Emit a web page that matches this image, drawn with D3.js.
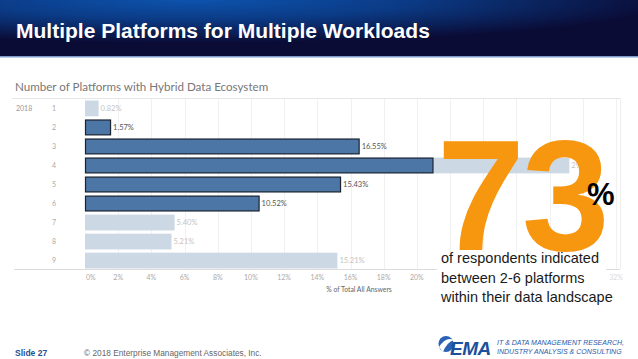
<meta charset="UTF-8">
<script src="https://d3js.org/d3.v7.min.js"></script>
<style>
  body { margin: 0; background: #fff; }
  svg { display: block; }
</style>
<div id="slide"></div>
<script>
// chart values
var categories = ["1", "2", "3", "4", "5", "6", "7", "8", "9"];
var values     = [0.82, 1.57, 16.55, 29.19, 15.43, 10.52, 5.40, 5.21, 15.21];
var darkPart   = [0, 1.57, 16.55, 21.0, 15.43, 10.52, 0, 0, 0];   // highlighted (2-6 platforms)
var gridTicks  = [2, 4, 6, 8, 10, 12, 14, 16, 18, 20, 22, 24, 26, 28, 30, 32];
var tickLabels = [0, 2, 4, 6, 8, 10, 12, 14, 16, 18, 20, 32];   // 22-30% sit under the callout text
var bodyLines  = ["of respondents indicated", "between 2-6 platforms", "within their data landscape"];

var W = 638, H = 359;
var svg = d3.select("#slide").append("svg").attr("width", W).attr("height", H);

// title bar
var defs = svg.append("defs");
var grad = defs.append("radialGradient").attr("id", "hdr")
  .attr("cx", "0.3").attr("cy", "0").attr("r", "0.75")
  .attr("fx", "0.3").attr("fy", "0");
grad.append("stop").attr("offset", "0%").attr("stop-color", "#0d53ad");
grad.append("stop").attr("offset", "45%").attr("stop-color", "#0b3b86");
grad.append("stop").attr("offset", "100%").attr("stop-color", "#0a0c36");
svg.append("rect").attr("width", W).attr("height", 57).attr("fill", "url(#hdr)");
svg.append("rect").attr("y", 56).attr("width", W).attr("height", 1.5).attr("fill", "#7f9cc8");
svg.append("text").attr("x", 16).attr("y", 38)
  .attr("font-family", "Liberation Sans, Arial, sans-serif").attr("font-weight", "bold")
  .attr("font-size", 21).attr("fill", "#fff")
  .text("Multiple Platforms for Multiple Workloads");

// chart area
var x = d3.scaleLinear().domain([0, 32]).range([85, 616]);
var y = d3.scaleBand().domain(categories).range([99, 270]).paddingInner(0.17).paddingOuter(0.08);

var chart = svg.append("g").attr("font-family", "Lato, Open Sans, sans-serif");

chart.append("text").attr("x", 15).attr("y", 91)
  .attr("font-size", 11.6).attr("fill", "#777")
  .text("Number of Platforms with Hybrid Data Ecosystem");
chart.append("line").attr("x1", 12).attr("x2", 620).attr("y1", 98.5).attr("y2", 98.5)
  .attr("stroke", "#e6e6e6");
chart.append("line").attr("x1", 620.5).attr("x2", 620.5).attr("y1", 98).attr("y2", 269)
  .attr("stroke", "#eeeeee");

// grid
chart.append("g").selectAll("line").data(gridTicks).enter().append("line")
  .attr("x1", function(d) { return Math.round(x(d)) + 0.5; })
  .attr("x2", function(d) { return Math.round(x(d)) + 0.5; })
  .attr("y1", 99).attr("y2", 269)
  .attr("stroke", "#f1f1f1");

// row labels
chart.append("text").attr("x", 16).attr("y", 111).attr("font-size", 7).attr("fill", "#999").text("2018");
chart.append("g").selectAll("text").data(categories).enter().append("text")
  .attr("x", 54).attr("y", function(d) { return y(d) + y.bandwidth() / 2 + 2.5; })
  .attr("text-anchor", "middle").attr("font-size", 7).attr("fill", "#aaa")
  .text(function(d) { return d; });

// full bars (light)
chart.append("g").selectAll("rect").data(categories).enter().append("rect")
  .attr("x", x(0))
  .attr("y", function(d) { return y(d); })
  .attr("width", function(d, i) { return x(values[i]) - x(0); })
  .attr("height", y.bandwidth())
  .attr("fill", "#ccd8e4");

// highlighted part (dark)
chart.append("g").selectAll("rect").data(categories.filter(function(d, i) { return darkPart[i] > 0; }))
  .enter().append("rect")
  .attr("x", x(0) + 0.5)
  .attr("y", function(d) { return y(d) + 0.5; })
  .attr("width", function(d) { return x(darkPart[categories.indexOf(d)]) - x(0) - 1; })
  .attr("height", y.bandwidth() - 1)
  .attr("fill", "#4c76a6").attr("stroke", "#1d2430").attr("stroke-width", 1.2);

// value labels
chart.append("g").selectAll("text").data(categories).enter().append("text")
  .attr("x", function(d, i) { return x(values[i]) + 2; })
  .attr("y", function(d) { return y(d) + y.bandwidth() / 2 + 2.8; })
  .attr("font-size", 7.5)
  .attr("fill", function(d, i) { return darkPart[i] === values[i] ? "#555" : "#c4c4c4"; })
  .text(function(d, i) { return values[i].toFixed(2) + "%"; });

// x axis
chart.append("line").attr("x1", 14).attr("x2", 620).attr("y1", 269.5).attr("y2", 269.5)
  .attr("stroke", "#dcdcdc");
chart.append("g").selectAll("text").data(tickLabels).enter().append("text")
  .attr("x", function(d) { return d === 0 ? x(d) + 1 : x(d); })
  .attr("y", 280)
  .attr("text-anchor", function(d) { return d === 0 ? "start" : "middle"; })
  .attr("font-size", 7)
  .attr("fill", function(d) { return d > 30 ? "#dadada" : "#aaa"; })
  .text(function(d) { return d + "%"; });
chart.append("text").attr("x", 359).attr("y", 292).attr("text-anchor", "middle")
  .attr("font-size", 6.8).attr("fill", "#666").text("% of Total All Answers");

// big callout
svg.append("text").attr("x", 437).attr("y", 250)
  .attr("font-family", "Liberation Sans, Arial, sans-serif").attr("font-weight", "bold")
  .attr("font-size", 158).attr("letter-spacing", -3).attr("fill", "#f7960f")
  .text("73");
svg.append("text").attr("x", 587).attr("y", 205)
  .attr("font-family", "Liberation Sans, Arial, sans-serif").attr("font-weight", "bold")
  .attr("font-size", 31).attr("fill", "#000").text("%");
svg.append("rect").attr("x", 437).attr("y", 252).attr("width", 169).attr("height", 52).attr("fill", "#fff");
svg.append("g").selectAll("text").data(bodyLines).enter().append("text")
  .attr("x", 441).attr("y", function(d, i) { return 263 + i * 19.5; })
  .attr("font-family", "Liberation Sans, Arial, sans-serif")
  .attr("font-size", 14.5).attr("fill", "#1a1a1a")
  .text(function(d) { return d; });

// footer
var foot = svg.append("g").attr("font-family", "Liberation Sans, Arial, sans-serif");
foot.append("text").attr("x", 15).attr("y", 356).attr("font-size", 8.5).attr("font-weight", "bold")
  .attr("fill", "#1f4f91").text("Slide 27");
foot.append("text").attr("x", 84).attr("y", 356).attr("font-size", 8.3).attr("fill", "#666")
  .text("\u00a9 2018 Enterprise Management Associates, Inc.");
foot.append("ellipse").attr("cx", 446).attr("cy", 344).attr("rx", 7.5).attr("ry", 8)
  .attr("fill", "#2a63b5");
foot.append("path").attr("d", "M439,347 Q446,336 454,340 Q447,342 443,352 Z").attr("fill", "#fff");
foot.append("text").attr("x", 450).attr("y", 355).attr("font-size", 19).attr("font-weight", "bold")
  .attr("font-style", "italic").attr("fill", "#1c4f9c").attr("letter-spacing", -0.5).text("EMA");
foot.append("text").attr("x", 497).attr("y", 345).attr("font-size", 7).attr("font-style", "italic")
  .attr("fill", "#2a5aa8").text("IT & DATA MANAGEMENT RESEARCH,");
foot.append("text").attr("x", 497).attr("y", 354).attr("font-size", 7).attr("font-style", "italic")
  .attr("fill", "#2a5aa8").text("INDUSTRY ANALYSIS & CONSULTING");
</script>
